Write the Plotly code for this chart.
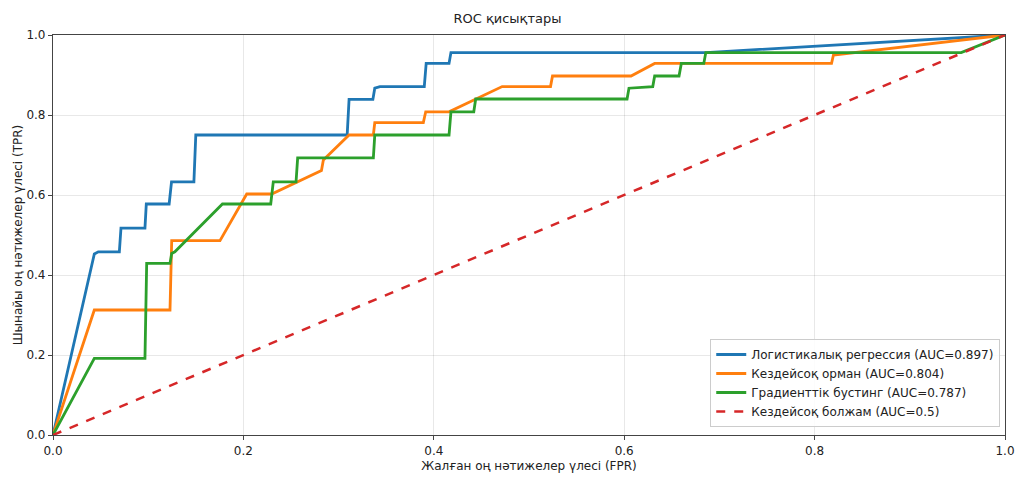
import plotly.graph_objects as go

# Data
lr_fpr = [0.0, 0.0434, 0.0476, 0.0697, 0.0714, 0.0966, 0.098, 0.122, 0.1245, 0.148, 0.150, 0.309, 0.311,
          0.336, 0.338, 0.3435, 0.390, 0.392, 0.416, 0.418, 0.686, 1.0]
lr_tpr = [0.0, 0.4525, 0.458, 0.458, 0.517, 0.517, 0.5775, 0.5775, 0.633, 0.633, 0.75, 0.75, 0.839,
          0.839, 0.867, 0.871, 0.871, 0.929, 0.929, 0.956, 0.956, 1.0]

rf_fpr = [0.0, 0.0434, 0.1229, 0.1247, 0.1754, 0.2035, 0.2297, 0.256, 0.282, 0.284, 0.311, 0.3365, 0.338,
          0.389, 0.3915, 0.416, 0.4462, 0.4718, 0.5226, 0.5247, 0.6072, 0.632, 0.8178, 0.8198, 1.0]
rf_tpr = [0.0, 0.3125, 0.3125, 0.486, 0.486, 0.6025, 0.6025, 0.632, 0.661, 0.6875, 0.75, 0.75, 0.781,
          0.781, 0.808, 0.808, 0.842, 0.871, 0.871, 0.8975, 0.8975, 0.929, 0.929, 0.95, 1.0]

gb_fpr = [0.0, 0.0434, 0.0966, 0.0984, 0.1229, 0.1247, 0.128, 0.178, 0.2287, 0.2314, 0.2553, 0.257, 0.3365,
          0.338, 0.416, 0.418, 0.442, 0.444, 0.603, 0.605, 0.630, 0.632, 0.6576, 0.660, 0.6836, 0.6857, 0.954, 1.0]
gb_tpr = [0.0, 0.1917, 0.1917, 0.429, 0.429, 0.454, 0.458, 0.5775, 0.5775, 0.633, 0.633, 0.693, 0.693,
          0.75, 0.75, 0.808, 0.808, 0.84, 0.84, 0.867, 0.871, 0.8975, 0.8975, 0.929, 0.929, 0.956, 0.956, 1.0]

chance_fpr = [0.0, 1.0]
chance_tpr = [0.0, 1.0]

names = ["Логистикалық регрессия (AUC=0.897)", "Кездейсоқ орман (AUC=0.804)",
         "Градиенттік бустинг (AUC=0.787)", "Кездейсоқ болжам (AUC=0.5)"]
colors = ["#1f77b4", "#ff7f0e", "#2ca02c", "#d62728"]
ticks = [0.0, 0.2, 0.4, 0.6, 0.8, 1.0]
tick_labels = ["0.0", "0.2", "0.4", "0.6", "0.8", "1.0"]

fig = go.Figure()
series = [(lr_fpr, lr_tpr), (rf_fpr, rf_tpr), (gb_fpr, gb_tpr)]
for (x, y), n, c in zip(series, names[:3], colors[:3]):
    fig.add_trace(go.Scatter(x=x, y=y, mode="lines", name=n, line=dict(color=c, width=2.8)))
fig.add_trace(go.Scatter(x=chance_fpr, y=chance_tpr, mode="lines", name=names[3],
                         line=dict(color=colors[3], width=2.5, dash="dash")))

axis_common = dict(range=[0, 1], tickvals=ticks, ticktext=tick_labels, showgrid=True,
                   gridcolor="rgba(0,0,0,0.09)", gridwidth=1, zeroline=False,
                   showline=True, linecolor="#444", linewidth=1.2, mirror=True,
                   ticks="outside", ticklen=4, tickcolor="#444", automargin=True,
                   tickfont=dict(size=12, color="#222"))

fig.update_layout(
    width=1015, height=480,
    margin=dict(l=53, r=10, t=35, b=45, autoexpand=False),
    paper_bgcolor="white", plot_bgcolor="white",
    font=dict(family="DejaVu Sans", color="#222"),
    title=dict(text="ROC қисықтары", x=0.5, xanchor="center", y=0.962, yanchor="middle",
               font=dict(size=13, color="#222")),
    xaxis=dict(title=dict(text="Жалған оң нәтижелер үлесі (FPR)", font=dict(size=12), standoff=5), **axis_common),
    yaxis=dict(title=dict(text="Шынайы оң нәтижелер үлесі (TPR)", font=dict(size=12), standoff=1), **axis_common),
    legend=dict(x=0.995, y=0.02, xanchor="right", yanchor="bottom", itemwidth=30,
                bgcolor="rgba(255,255,255,0.85)", bordercolor="#ccc", borderwidth=1,
                font=dict(size=12, color="#222"), tracegroupgap=0),
    showlegend=True,
)

fig.write_html("out.html", config={"displayModeBar": False},
               post_script="document.body.style.margin='0';")
